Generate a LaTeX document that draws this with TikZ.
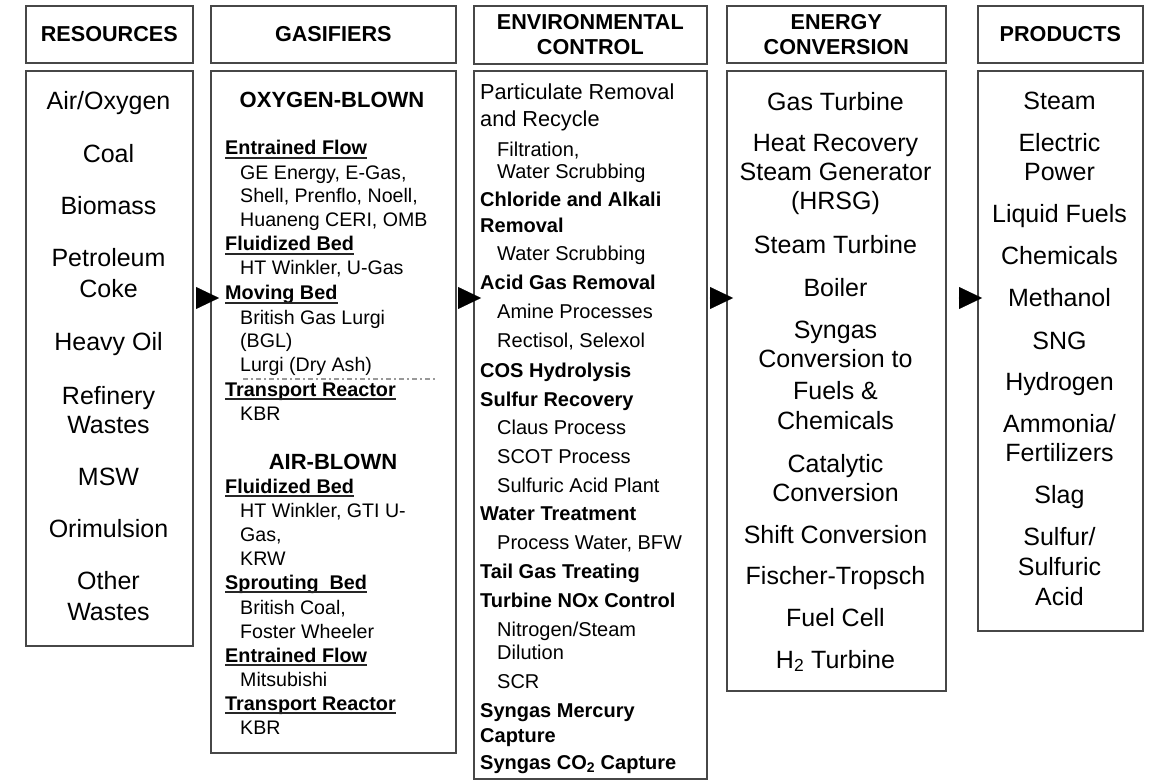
\documentclass[tikz,border=0pt]{standalone}
\usepackage{fontspec}
\setmainfont{Liberation Sans}
\usetikzlibrary{arrows.meta,calc}

\begin{document}
\begin{tikzpicture}[x=1pt,y=-1pt,
  frame/.style={draw=black!72, line width=1.6pt, inner sep=0pt, anchor=north west},
  head/.style={frame, font=\fontsize{21.6}{25}\selectfont\bfseries, align=center},
  big/.style={font=\fontsize{25}{30}\selectfont, anchor=base, inner sep=0pt},
  gtitle/.style={font=\fontsize{22}{26}\selectfont\bfseries, anchor=base, inner sep=0pt},
  gitem/.style={font=\fontsize{19.6}{23}\selectfont, anchor=base west, inner sep=0pt},
  ghead/.style={font=\fontsize{19.8}{23}\selectfont\bfseries, anchor=base west, inner sep=0pt},
  eitem/.style={font=\fontsize{20}{24}\selectfont, anchor=base west, inner sep=0pt},
  ehead/.style={font=\fontsize{20}{24}\selectfont\bfseries, anchor=base west, inner sep=0pt},
  elead/.style={font=\fontsize{21.7}{26}\selectfont, anchor=base west, inner sep=0pt},
  uline/.style={draw=black!85, line width=1.7pt},
  sepline/.style={draw=black!40, line width=1.4pt, dash pattern=on 5pt off 3pt on 2pt off 3pt},
  flow/.style={-{Triangle[length=23pt,width=22pt]}, line width=0.1pt, draw=black, fill=black}
]
\useasboundingbox (0,0) rectangle (1161,783);

% column headers
\node[head, minimum width=167pt, minimum height=57pt] (reshead) at (25,5) {RESOURCES};
\node[head, minimum width=245pt, minimum height=57pt] (gashead) at (210,5) {GASIFIERS};
\node[head, minimum width=233pt, minimum height=58pt] (envhead) at (473,5) {ENVIRONMENTAL\\CONTROL};
\node[head, minimum width=219pt, minimum height=57pt] (enghead) at (726,5) {ENERGY\\CONVERSION};
\node[head, minimum width=165pt, minimum height=57pt] (prohead) at (977,5) {PRODUCTS};

% column bodies
\node[frame, minimum width=167pt, minimum height=575pt] (resbody) at (25,70) {};
\node[frame, minimum width=245pt, minimum height=682pt] (gasbody) at (210,70) {};
\node[frame, minimum width=233pt, minimum height=708pt] (envbody) at (473,70) {};
\node[frame, minimum width=219pt, minimum height=620pt] (engbody) at (726,70) {};
\node[frame, minimum width=165pt, minimum height=560pt] (probody) at (977,70) {};

% flow arrows between the columns
\coordinate (row) at (0,298);
\draw[flow] ($(resbody.east |- row)+(3,0)$) -- ($(gasbody.west |- row)+(9,0)$);
\draw[flow] ($(gasbody.east |- row)+(3,0)$) -- ($(envbody.west |- row)+(8,0)$);
\draw[flow] ($(envbody.east |- row)+(2,0)$) -- ($(engbody.west |- row)+(7,0)$);
\draw[flow] ($(engbody.east |- row)+(12,0)$) -- ($(probody.west |- row)+(5,0)$);

% resources
\foreach \y/\t [count=\i] in {110/{Air/Oxygen},163/Coal,215/Biomass,267/Petroleum,298/Coke,
  350/Heavy Oil,404/Refinery,433/Wastes,485/MSW,537/Orimulsion,589/Other,620/Wastes}
  \node[big] (res\i) at (108.5,\y) {\t};

% gasifiers
\node[gtitle] (oxy) at (332,108) {OXYGEN-BLOWN};
\node[gtitle] (air) at (333,469) {AIR-BLOWN};
\foreach \y/\t [count=\i] in {155/Entrained Flow,251/Fluidized Bed,300/Moving Bed,
  396/Transport Reactor,493/Fluidized Bed,589/{Sprouting\ \ Bed},662/Entrained Flow,
  710/Transport Reactor}{
  \node[ghead] (gh\i) at (225,\y) {\t};
  \draw[uline] ([yshift=-3.2pt]gh\i.base west) -- ([yshift=-3.2pt]gh\i.base east);
}
\foreach \y/\t [count=\i] in {180/{GE Energy, E-Gas,},203/{Shell, Prenflo, Noell,},
  227/{Huaneng CERI, OMB},275/{HT Winkler, U-Gas},324/British Gas Lurgi,348/(BGL),
  371/Lurgi (Dry Ash),420/KBR,517/{HT Winkler, GTI U-},541/{Gas,},565/KRW,
  614/{British Coal,},638/Foster Wheeler,686/Mitsubishi,734/KBR}
  \node[gitem] (gi\i) at (240,\y) {\t};
\draw[sepline] (243,379) -- (435,379);

% environmental control
\node[elead] (lead1) at (480,100) {Particulate Removal};
\node[elead] (lead2) at (480,127) {and Recycle};
\foreach \y/\t [count=\i] in {207/Chloride and Alkali,233/Removal,290/Acid Gas Removal,
  377/COS Hydrolysis,406/Sulfur Recovery,520/Water Treatment,578/Tail Gas Treating,
  607/Turbine NOx Control,717/Syngas Mercury,742/Capture,
  769/Syngas CO\textsubscript{2} Capture}
  \node[ehead] (eh\i) at (480,\y) {\t};
\foreach \y/\t [count=\i] in {157/{Filtration,},179/Water Scrubbing,261/Water Scrubbing,
  319/Amine Processes,347/{Rectisol, Selexol},434/Claus Process,463/SCOT Process,
  492/Sulfuric Acid Plant,549/{Process Water, BFW},636/{Nitrogen/Steam},659/Dilution,
  688/SCR}
  \node[eitem] (ei\i) at (497,\y) {\t};

% energy conversion
\foreach \y/\t [count=\i] in {111/Gas Turbine,152/Heat Recovery,181/Steam Generator,
  210/(HRSG),254/Steam Turbine,297/Boiler,338/Syngas,367/Conversion to,399/Fuels \&,
  429/Chemicals,472/Catalytic,501/Conversion,543/Shift Conversion,584/Fischer-Tropsch,
  626/Fuel Cell,668/H\textsubscript{2} Turbine}
  \node[big] (eng\i) at (835.5,\y) {\t};

% products
\foreach \y/\t [count=\i] in {110/Steam,152/Electric,181/Power,223/Liquid Fuels,
  265/Chemicals,307/Methanol,349/SNG,390/Hydrogen,432/{Ammonia/},461/Fertilizers,
  503/Slag,545/{Sulfur/},575/Sulfuric,605/Acid}
  \node[big] (pro\i) at (1059.5,\y) {\t};
\end{tikzpicture}
\end{document}
